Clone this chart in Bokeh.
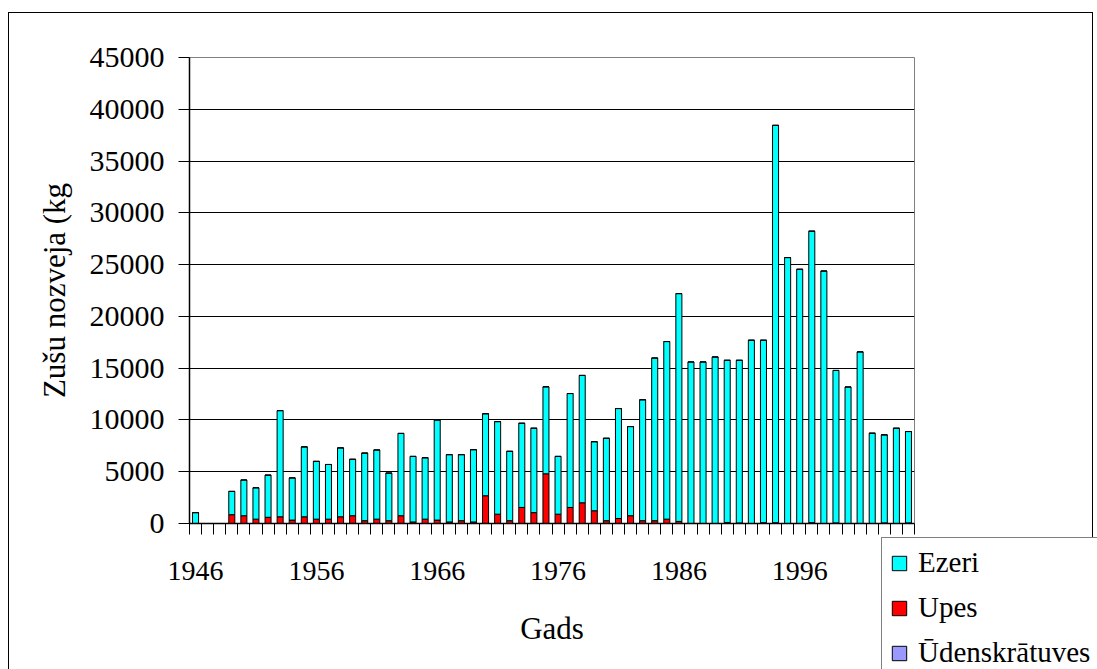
from bokeh.plotting import figure
from bokeh.models import (ColumnDataSource, Range1d, FixedTicker, NumeralTickFormatter,
                          Legend, LegendItem, InlineStyleSheet)
from bokeh.embed import file_html
from bokeh.resources import INLINE

# Eel catch by water body type, kg per year
years = list(range(1946, 2006))
ezeri = [1050, 0, 0, 2250, 3450, 3030, 4070, 10250, 4070, 6750,
         5580, 5280, 6650, 5450, 6530, 6680, 4600, 7950, 6330, 5930,
         9670, 6500, 6380, 6980, 7920, 8940, 6700, 8130, 8150, 8400,
         5580, 11000, 12300, 6670, 7960, 10620, 8610, 11680, 15710, 17150,
         22000, 15600, 15600, 16080, 15660, 15710, 17700, 17620, 38370, 25680,
         24550, 28150, 24380, 14720, 13180, 16570, 8720, 8500, 9200, 8820]
upes = [0, 0, 0, 850, 750, 420, 600, 650, 330, 650,
        420, 420, 650, 750, 270, 420, 270, 750, 150, 420,
        330, 150, 270, 150, 2680, 900, 270, 1550, 1050, 4800,
        900, 1550, 2000, 1230, 270, 480, 750, 270, 270, 420,
        200, 0, 0, 0, 100, 50, 0, 80, 80, 0,
        0, 80, 0, 60, 0, 0, 0, 60, 0, 60]
udenskratuves = [0] * 60

series = ["Ezeri", "Upes", "Ūdenskrātuves"]
y_ticks = list(range(0, 45001, 5000))
label_years = [1946, 1956, 1966, 1976, 1986, 1996]

FONT = "Liberation Serif"
CYAN, RED, LAVENDER = "#00FFFF", "#FF0000", "#9999FF"
W, H = 1097, 669

source = ColumnDataSource(data={
    "year": years,
    "Ezeri": ezeri,
    "Upes": upes,
    "Ūdenskrātuves": udenskratuves,
})
stack_order = ["Upes", "Ezeri", "Ūdenskrātuves"]   # rivers at the bottom
stack_colors = [RED, CYAN, LAVENDER]

p = figure(width=W, height=H, output_backend="svg", toolbar_location=None,
           x_range=Range1d(1945.5, 2005.5), y_range=Range1d(0, 45000),
           min_border_left=189, min_border_right=183,
           min_border_top=57, min_border_bottom=146)
p.background_fill_color = "white"
p.border_fill_color = "white"
p.outline_line_color = "#808080"
p.outline_line_width = 1

p.vbar_stack(stack_order, x="year", width=0.5, color=stack_colors,
             line_color="black", line_width=1, source=source)

# y axis
p.yaxis.ticker = FixedTicker(ticks=y_ticks, minor_ticks=[])
p.yaxis.formatter = NumeralTickFormatter(format="0")
p.yaxis.major_tick_out = 11
p.yaxis.major_tick_in = 0
p.yaxis.major_tick_line_color = "black"
p.yaxis.axis_line_color = "black"
p.yaxis.axis_line_width = 1.5
p.yaxis.major_label_standoff = 14
p.yaxis.major_label_text_font = FONT
p.yaxis.major_label_text_font_size = "30px"
p.yaxis.major_label_text_color = "black"
p.yaxis.axis_label = "Zušu nozveja (kg"
p.yaxis.axis_label_text_font = FONT
p.yaxis.axis_label_text_font_size = "31px"
p.yaxis.axis_label_text_font_style = "normal"
p.yaxis.axis_label_text_color = "black"
p.yaxis.axis_label_standoff = 15

# x axis: labels every ten years, tick marks between categories
p.xaxis.ticker = FixedTicker(ticks=label_years,
                             minor_ticks=[y - 0.5 for y in years] + [years[-1] + 0.5])
p.xaxis.formatter = NumeralTickFormatter(format="0")
p.xaxis.major_tick_out = 0
p.xaxis.major_tick_in = 0
p.xaxis.major_tick_line_color = None
p.xaxis.minor_tick_out = 11
p.xaxis.minor_tick_in = 0
p.xaxis.minor_tick_line_color = "black"
p.xaxis.minor_tick_line_width = 1
p.xaxis.axis_line_color = "black"
p.xaxis.axis_line_width = 1.5
p.xaxis.major_label_standoff = 27
p.xaxis.major_label_text_font = FONT
p.xaxis.major_label_text_font_size = "28px"
p.xaxis.major_label_text_color = "black"
p.xaxis.axis_label = "Gads"
p.xaxis.axis_label_text_font = FONT
p.xaxis.axis_label_text_font_size = "31px"
p.xaxis.axis_label_text_font_style = "normal"
p.xaxis.axis_label_text_color = "black"
p.xaxis.axis_label_standoff = 28

p.xgrid.visible = False
p.ygrid.ticker = FixedTicker(ticks=y_ticks[1:-1])
p.ygrid.grid_line_color = "black"
p.ygrid.grid_line_width = 1

# frame around the whole chart
p.stylesheets = [InlineStyleSheet(css=(
    ":host { position: relative; }"
    ":host::after { content: ''; position: absolute; left: 8px; top: 12px;"
    " width: 1085px; height: 657px; box-sizing: border-box;"
    " border: 1.5px solid black; border-bottom: none; pointer-events: none; }"
))]

# transparent overlay of the same size whose plot area is the lower right corner,
# holding the legend; the same stacked bars are attached (kept out of view) for swatches
leg = figure(width=W, height=H, output_backend="svg", toolbar_location=None,
             x_axis_location=None, y_axis_location=None,
             x_range=Range1d(0, 1), y_range=Range1d(-2, -1),
             min_border_left=880, min_border_top=536,
             min_border_right=0, min_border_bottom=0)
leg.grid.visible = False
leg.outline_line_color = None
leg.background_fill_alpha = 0
leg.border_fill_alpha = 0
swatch = dict(zip(stack_order, leg.vbar_stack(stack_order, x="year", width=0.5,
                                              color=stack_colors, line_color="black",
                                              line_width=1, source=source)))
leg.add_layout(Legend(items=[LegendItem(label=s, renderers=[swatch[s]]) for s in series],
                      location="top_left", orientation="vertical",
                      label_text_font=FONT, label_text_font_size="29px", label_text_color="black",
                      glyph_width=18, glyph_height=18, label_height=33, label_standoff=10,
                      spacing=12, padding=8, margin=1,
                      border_line_color="black", border_line_width=1.5,
                      background_fill_color="white", background_fill_alpha=1.0))
leg.stylesheets = [InlineStyleSheet(css=(
    ":host { position: absolute !important; left: 0px !important; top: 0px !important;"
    " pointer-events: none; }"
))]

open("out.html", "w").write(file_html([p, leg], INLINE))
